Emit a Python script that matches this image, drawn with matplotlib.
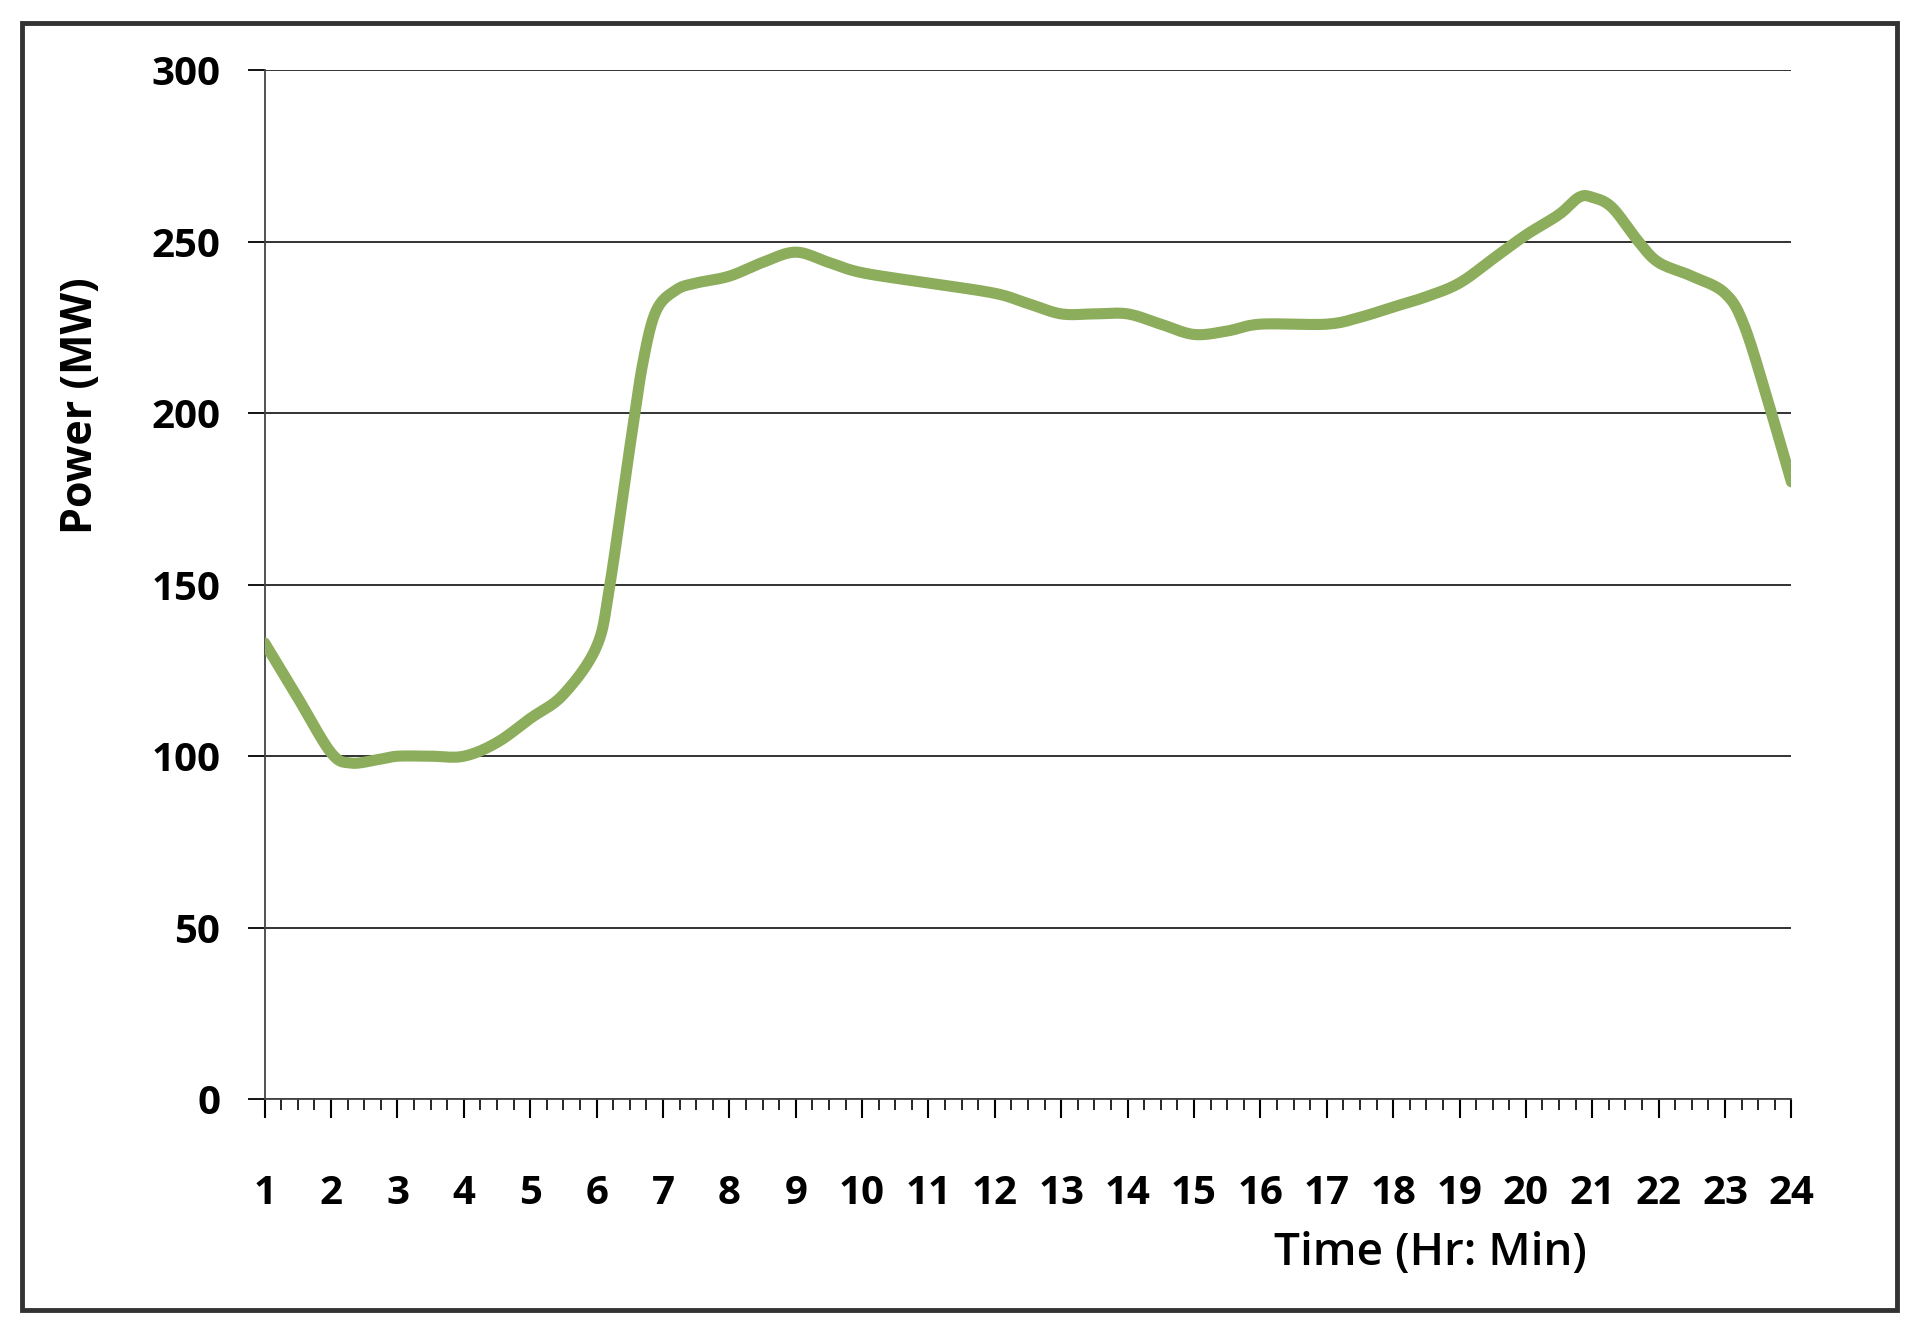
import matplotlib
matplotlib.use("Agg")
import matplotlib.pyplot as plt
import numpy as np
from matplotlib.ticker import MultipleLocator
from matplotlib.patches import Rectangle

# hour of day and load (MW)
hours = [1, 1.5, 2, 2.3, 2.7, 3, 3.5, 4, 4.5, 5, 5.5, 6, 6.2, 6.5, 6.7, 6.9, 7.2, 7.5,
         8, 8.5, 9, 9.5, 10, 11, 12, 12.5, 13, 13.5, 14, 14.5, 15, 15.5, 16, 17, 17.5,
         18, 18.5, 19, 19.5, 20, 20.5, 20.8, 21, 21.3, 21.7, 22, 22.5, 23, 23.3, 23.7, 24]
power = [133, 117, 101, 98, 99, 100, 100, 100, 104, 111, 118, 132, 150, 190, 215, 230, 236, 238,
         240, 244, 247, 244, 241, 238, 235, 232, 229, 229, 229, 226, 223, 224, 226, 226, 228,
         231, 234, 238, 245, 252, 258, 263, 263, 260, 250, 244, 240, 235, 225, 200, 180]
x_labels = [str(h) for h in range(1, 25)]


def smooth_line(x, y, n=12):
    # catmull-rom through the read points, like the excel "smoothed line" option
    p = np.column_stack([x, y]).astype(float)
    p = np.vstack([p[0], p, p[-1]])
    out = []
    for i in range(1, len(p) - 2):
        p0, p1, p2, p3 = p[i - 1], p[i], p[i + 1], p[i + 2]
        for t in np.linspace(0, 1, n, endpoint=False):
            out.append(0.5 * (2 * p1 + (-p0 + p2) * t + (2 * p0 - 5 * p1 + 4 * p2 - p3) * t ** 2
                              + (-p0 + 3 * p1 - 3 * p2 + p3) * t ** 3))
    out.append(p[-2])
    out = np.array(out)
    return out[:, 0], out[:, 1]


fig = plt.figure(figsize=(19.18, 13.29), dpi=100)
ax = fig.add_axes([0.138, 0.173, 0.796, 0.774])
fig.patches.append(Rectangle((0.0115, 0.014), 0.9775, 0.969, transform=fig.transFigure,
                             fill=False, lw=3.5, ec="#333333"))

sx, sy = smooth_line(hours, power)
ax.plot(sx, sy, color="#8cad5b", lw=8, solid_capstyle="round", solid_joinstyle="round", zorder=3)

ax.set_xlim(1, 24)
ax.set_ylim(0, 300)
ax.yaxis.set_major_locator(MultipleLocator(50))
ax.set_xticks(range(1, 25))
ax.set_xticklabels(x_labels)
ax.xaxis.set_minor_locator(MultipleLocator(0.25))
ax.grid(axis="y", color="#222222", lw=1.3)
for s in ["top", "right"]:
    ax.spines[s].set_visible(False)
for s in ["left", "bottom"]:
    ax.spines[s].set_color("#444444")
    ax.spines[s].set_linewidth(1.3)

ax.tick_params(axis="x", which="major", direction="out", length=14, width=1.5, pad=40)
ax.tick_params(axis="x", which="minor", direction="out", length=8, width=1.2)
ax.tick_params(axis="y", direction="out", length=12, width=1.3, pad=20)
for lbl in ax.get_xticklabels() + ax.get_yticklabels():
    lbl.set_fontfamily("Open Sans")
    lbl.set_fontweight("bold")
    lbl.set_fontsize(29)

fig.text(0.746, 0.057, "Time (Hr: Min)", ha="center", va="center",
         family="Open Sans", weight="semibold", size=33)
fig.text(0.042, 0.695, "Power (MW)", ha="center", va="center", rotation=90,
         family="Open Sans", weight="bold", size=31)

fig.savefig("out.png", dpi=100)
